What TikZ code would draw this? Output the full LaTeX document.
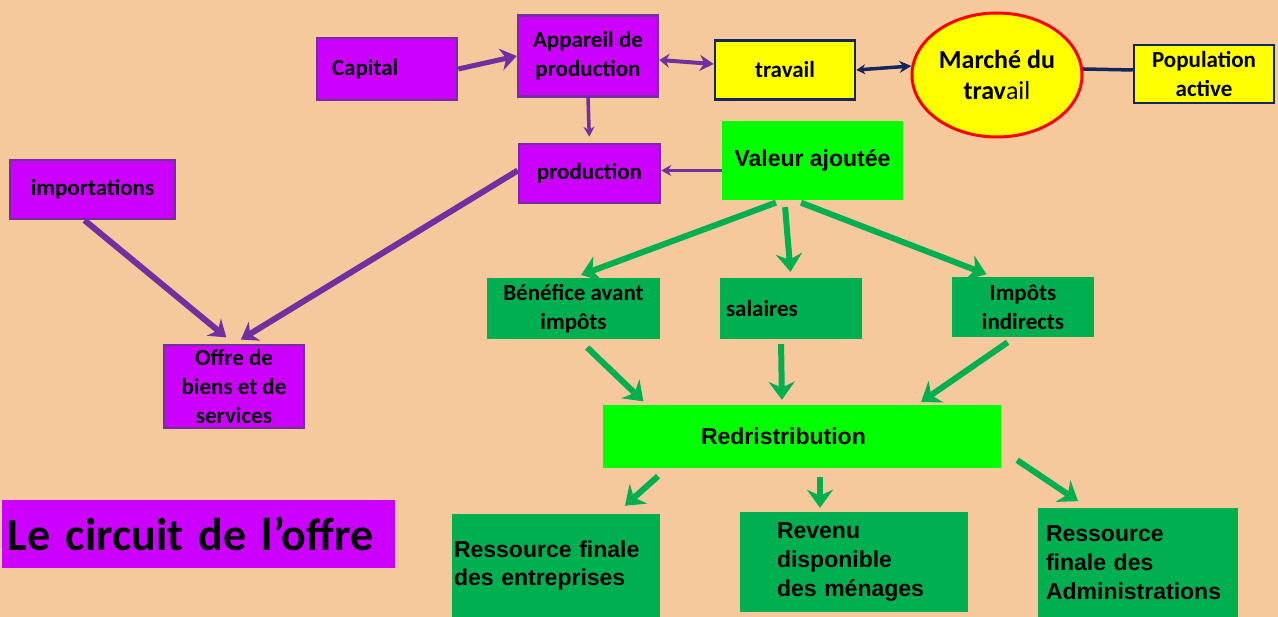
\documentclass[tikz,border=0pt]{standalone}
\usepackage{fontspec}
\setmainfont{Carlito}
\newfontfamily\arialf{Liberation Sans}
\usepackage{tikz}
\usetikzlibrary{shapes,arrows.meta}

\definecolor{fond}{HTML}{F5C99B}
\definecolor{violette}{HTML}{CC00FF}
\definecolor{violetline}{HTML}{7030A0}
\definecolor{jaune}{HTML}{FFFF00}
\definecolor{marine}{HTML}{13275E}
\definecolor{vertfonce}{HTML}{00B050}
\definecolor{vertclair}{HTML}{00FF00}

\begin{document}
\begin{tikzpicture}[x=1pt,y=-1pt,font=\fontsize{23}{29}\selectfont\bfseries,
  every node/.style={inner sep=0pt,text=black}]
\tikzstyle{pbox}=[rectangle,draw=violetline,line width=2.5pt,fill=violette,align=center]
\tikzstyle{ybox}=[rectangle,draw=marine,line width=2.5pt,fill=jaune,align=center]
\tikzstyle{gbox}=[rectangle,fill=vertfonce,align=center]
\tikzstyle{lbox}=[rectangle,fill=vertclair,align=center,font=\fontsize{23}{28}\selectfont\arialf\bfseries]
\tikzstyle{parrow}=[draw=violetline,line width=5pt,-{Stealth[length=16pt,width=22pt]}]
\tikzstyle{pthin}=[draw=violetline,line width=3.5pt,-{Stealth[length=10pt,width=11pt]}]
\tikzstyle{garrow}=[draw=vertfonce,line width=6pt,-{Stealth[length=18pt,width=26pt]}]
\tikzstyle{nline}=[draw=marine,line width=3.5pt]

\fill[fond] (0,0) rectangle (1278,617);
\useasboundingbox (0,0) rectangle (1278,617);

% cote production
\node[pbox,minimum width=140,minimum height=62,text width=110,align=left] (cap) at (387,69) {Capital};
\node[pbox,minimum width=140,minimum height=81] (app) at (588,56) {Appareil de\\production};
\node[ybox,minimum width=140,minimum height=59] (trav) at (785,70) {travail};
\node[ellipse,draw=red,line width=3pt,fill=jaune,minimum width=170,minimum height=124,align=center,
  font=\fontsize{26}{31}\selectfont\bfseries] (mar) at (997,75) {Marché du\\trav{\mdseries ail}};
\node[ybox,minimum width=140,minimum height=58] (pop) at (1204,74) {Population\\active};
\node[pbox,minimum width=141,minimum height=59] (prod) at (589.5,173.5) {production};
\node[lbox,minimum width=181,minimum height=79] (va) at (812.5,160.5) {Valeur ajoutée};
\node[pbox,minimum width=165,minimum height=59] (imp) at (92.5,189.5) {importations};
\node[pbox,minimum width=140,minimum height=83] (offre) at (234,386.5) {Offre de\\biens et de\\services};

% repartition
\node[gbox,minimum width=173,minimum height=61] (ben) at (573.5,308.5) {Bénéfice avant\\impôts};
\node[gbox,minimum width=142,minimum height=61,text width=130,align=left] (sal) at (791,308.5) {salaires};
\node[gbox,minimum width=142,minimum height=60] (impo) at (1023,307) {Impôts\\indirects};
\node[lbox,minimum width=398,minimum height=63,text width=390,align=left] (red) at (802,436.5) {\hspace*{94pt}Redristribution};
\node[gbox,minimum width=208,minimum height=103,text width=204,align=left,
  font=\fontsize{23}{28}\selectfont\arialf\bfseries] (rfe) at (556,565.5) {Ressource finale\\des entreprises};
\node[gbox,minimum width=228,minimum height=100,text width=154,align=left,
  font=\fontsize{23}{29}\selectfont\arialf\bfseries] (rev) at (854,562) {Revenu\\disponible\\des ménages};
\node[gbox,minimum width=200,minimum height=109,text width=184,align=left,
  font=\fontsize{23}{29}\selectfont\arialf\bfseries] (adm) at (1138,562.5) {Ressource\\finale des\\Administrations};
\node[fill=violette,minimum width=393,minimum height=68,text width=381,align=left,
  font=\fontsize{46}{52}\selectfont\bfseries] (titre) at (198.5,534) {Le circuit de l’offre};

% fleches violettes
\draw[parrow] (cap.east) -- (app.west);
\draw[draw=violetline,line width=4pt,{Stealth[length=10pt,width=14pt]}-{Stealth[length=14pt,width=16pt]}]
  ([yshift=-4]app.east) -- ([yshift=6]trav.west);
\draw[pthin,shorten >=6pt] (app.south) -- (prod.north);
\draw[pthin] ([yshift=-10]va.west) -- ([yshift=3]prod.east);
\draw[parrow,line width=6pt,shorten >=8pt] ([yshift=3]prod.west) -- (offre.north);
\draw[parrow,line width=6pt,shorten >=10pt] ([xshift=-8]imp.south) -- (offre.north);

% marche du travail
\draw[nline,{Stealth[length=9pt,width=10pt]}-{Stealth[length=12pt,width=12pt]}] (trav.east) -- (mar.174);
\draw[nline] (mar.4) -- ([yshift=4]pop.west);

% fleches vertes
\draw[garrow,shorten <=7pt,shorten >=8pt] ([xshift=-30]va.south) -- (ben.north);
\draw[garrow,shorten <=7pt,shorten >=6pt] ([xshift=-28]va.south) -- (sal.north);
\draw[garrow,shorten <=7pt,shorten >=7pt] ([xshift=-18]va.south) -- ([xshift=-30]impo.north);
\draw[garrow,shorten <=12pt,shorten >=5pt] ([xshift=5]ben.south) -- ([xshift=-155]red.north);
\draw[garrow,shorten <=5pt,shorten >=5pt] ([xshift=-10]sal.south) -- ([xshift=-20]red.north);
\draw[garrow,shorten <=9pt,shorten >=5pt] ([xshift=-8]impo.south) -- ([xshift=115]red.north);
\draw[garrow,shorten <=12pt,shorten >=12pt] ([xshift=-135]red.south) -- ([xshift=60]rfe.north);
\draw[garrow,shorten <=9pt,shorten >=4pt] ([xshift=18]red.south) -- ([xshift=-34]rev.north);
\draw[garrow,shorten >=12pt] ([xshift=16,yshift=8]red.south east) -- ([xshift=-50]adm.north);
\end{tikzpicture}
\end{document}
